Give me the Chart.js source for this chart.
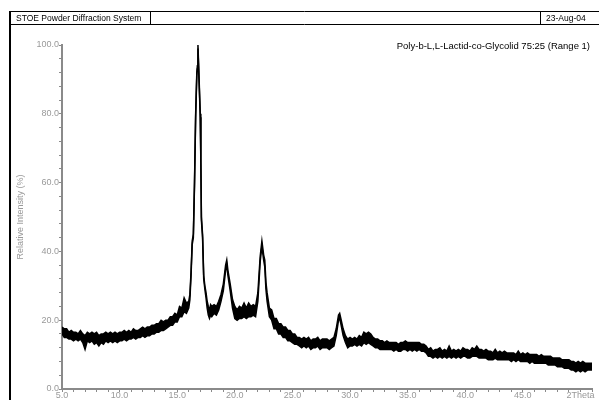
<!DOCTYPE html>
<html>
<head>
<meta charset="utf-8">
<title>STOE Powder Diffraction System</title>
<script src="https://cdn.jsdelivr.net/npm/chart.js@4.4.1/dist/chart.umd.min.js"></script>
<style>
    html, body { margin: 0; padding: 0; background: #ffffff; }
    #wrap { width: 599px; height: 400px; position: relative; }
</style>
</head>
<body>
<div id="wrap"><canvas id="xrdChart"></canvas></div>
<script>
// Datos del difractograma: 2Theta (grados) y banda de ruido de la intensidad relativa (%)
const twoTheta = [
    5.0, 5.2, 5.4, 5.6, 5.8, 6.0, 6.2, 6.4, 6.6, 6.8, 7.0, 7.2, 7.4, 7.6, 7.8,
    8.0, 8.2, 8.4, 8.6, 8.8, 9.0, 9.2, 9.4, 9.6, 9.8, 10.0, 10.2, 10.4, 10.6, 10.8,
    11.0, 11.2, 11.4, 11.6, 11.8, 12.0, 12.2, 12.4, 12.6, 12.8, 13.0, 13.2, 13.4, 13.6, 13.8,
    14.0, 14.2, 14.4, 14.6, 14.8, 15.0, 15.2, 15.4, 15.6, 15.8, 16.0, 16.1, 16.2, 16.3, 16.4,
    16.5, 16.6, 16.7, 16.75, 16.8, 16.85, 16.9, 17.0, 17.05, 17.1, 17.2, 17.3, 17.4, 17.5, 17.6,
    17.7, 17.8, 17.9, 18.0, 18.2, 18.4, 18.6, 18.8, 19.0, 19.2, 19.3, 19.4, 19.6, 19.8, 20.0,
    20.2, 20.4, 20.6, 20.8, 21.0, 21.2, 21.4, 21.6, 21.8, 22.0, 22.2, 22.35, 22.5, 22.6, 22.7,
    22.8, 23.0, 23.2, 23.4, 23.6, 23.8, 24.0, 24.2, 24.4, 24.6, 24.8, 25.0, 25.2, 25.4, 25.6,
    25.8, 26.0, 26.2, 26.4, 26.6, 26.8, 27.0, 27.2, 27.4, 27.6, 27.8, 28.0, 28.2, 28.4, 28.6,
    28.8, 29.0, 29.1, 29.2, 29.4, 29.6, 29.8, 30.0, 30.2, 30.4, 30.6, 30.8, 31.0, 31.2, 31.4,
    31.6, 31.8, 32.0, 32.2, 32.4, 32.6, 32.8, 33.0, 33.2, 33.4, 33.6, 33.8, 34.0, 34.2, 34.4,
    34.6, 34.8, 35.0, 35.2, 35.4, 35.6, 35.8, 36.0, 36.2, 36.4, 36.6, 36.8, 37.0, 37.2, 37.4,
    37.6, 37.8, 38.0, 38.2, 38.4, 38.6, 38.8, 39.0, 39.2, 39.4, 39.6, 39.8, 40.0, 40.2, 40.4,
    40.6, 40.8, 41.0, 41.2, 41.4, 41.6, 41.8, 42.0, 42.2, 42.4, 42.6, 42.8, 43.0, 43.2, 43.4,
    43.6, 43.8, 44.0, 44.2, 44.4, 44.6, 44.8, 45.0, 45.2, 45.4, 45.6, 45.8, 46.0, 46.2, 46.4,
    46.6, 46.8, 47.0, 47.2, 47.4, 47.6, 47.8, 48.0, 48.2, 48.4, 48.6, 48.8, 49.0, 49.2, 49.4,
    49.6, 49.8, 50.0, 50.2, 50.4, 50.6, 50.8, 51.0
];
// borde superior de la banda
const intensityHigh = [
    18, 17.5, 17.5, 16.5, 17, 16.5, 16.5, 16, 17, 16, 15.5, 16.5, 16, 16.5, 16,
    16.5, 15.5, 16, 16, 16.5, 16, 16.5, 16, 16.5, 16, 16.5, 16.5, 17, 16.5, 17,
    16.5, 17.5, 17, 17, 17.5, 18, 17.5, 18, 18, 18.5, 18.5, 19, 19, 20, 19.5,
    20, 20, 21, 21, 22, 21.5, 24, 23.5, 26.5, 25, 25.5, 27.5, 34, 43, 45,
    60, 80, 92, 94, 100, 95, 90, 80, 67, 50, 45, 33, 30, 28, 25.5,
    24, 23, 24.5, 24, 24.5, 24, 25.5, 27.5, 30.5, 36, 37.5, 34.5, 30.5, 26, 24,
    23, 24, 23.5, 25, 23.5, 25, 24, 24.5, 24, 28, 38.5, 43, 39, 37.5, 31,
    28, 23.5, 23, 20.5, 20.5, 19, 19, 18, 18, 17, 17, 16, 16, 15, 15,
    14.5, 15, 14.5, 15, 14, 14.5, 14.5, 15, 14, 14.5, 14.5, 14.5, 14, 14.5, 15,
    17.5, 21.5, 22, 20.5, 17.5, 15.5, 14.5, 15, 14.5, 15, 14.5, 15.5, 15, 16.5, 16,
    16.5, 16, 15, 14.5, 14.5, 14, 14, 13.5, 14, 13.5, 13.5, 13.5, 13.5, 13, 13.5,
    13.5, 14, 13.5, 13.5, 13.5, 13.5, 13.5, 13.5, 13, 13, 12.5, 11.5, 12, 11, 11.5,
    11.5, 12, 11, 11.5, 11, 12.5, 11, 11.5, 11, 11.5, 11, 12, 11.5, 11.5, 11,
    12, 11.5, 12.5, 11.5, 11.5, 11, 11.5, 11, 11, 10.5, 11.5, 10.5, 11, 10.5, 11,
    10.5, 10.5, 10.5, 10.5, 10, 11, 10, 10.5, 10, 10.5, 10, 10, 10, 10, 9.5,
    10, 9.5, 9.5, 9.5, 9.5, 9, 9, 9, 9, 8.5, 8.5, 8.5, 8.5, 8, 8,
    7.5, 8, 7.5, 8, 7.5, 7.5, 7.5, 7.5
];
// borde inferior de la banda
const intensityLow = [
    16, 15, 15, 14.5, 14.5, 14, 14.5, 14, 14.5, 13.5, 11.5, 14, 13.5, 14, 13,
    13.5, 12.5, 13.5, 13, 14, 13.5, 14, 13.5, 14, 13.5, 14, 14, 14.5, 14, 14.5,
    14.5, 15, 14.5, 15, 15, 15.5, 15, 15.5, 15.5, 16, 16, 16.5, 16.5, 17, 17,
    17.5, 18, 18.5, 18.5, 19.5, 19.5, 21, 21, 22.5, 22, 23.5, 26, 33, 42, 44,
    59, 79, 91, 93, 99, 94, 89, 79, 66, 49, 44, 32, 29, 26.5, 23.5,
    21.5, 20.5, 21.5, 21, 22, 21.5, 23, 25.5, 28.5, 34.5, 36, 33, 28.5, 23.5, 20.5,
    20, 20.5, 20.5, 21, 20.5, 21, 21, 21.5, 21, 25.5, 37, 41.5, 37.5, 35.5, 29,
    25.5, 21, 20, 17.5, 17.5, 16, 16, 15, 15, 14, 14, 13.5, 13, 13, 12.5,
    12, 12.5, 12, 12.5, 11.5, 12, 12, 12.5, 11.5, 12, 12, 12, 11.5, 12, 12.5,
    15.5, 20, 20.5, 19, 15.5, 13.5, 12, 12.5, 12.5, 13, 12.5, 13, 12.5, 13.5, 13,
    13.5, 13, 12.5, 12, 12, 11.5, 11.5, 11.5, 11.5, 11.5, 11.5, 11, 11.5, 11, 11,
    11.5, 11.5, 11, 11.5, 11, 11.5, 11, 11.5, 11, 11, 10.5, 9.5, 9.5, 9, 9.5,
    9, 9.5, 9, 9.5, 9, 9.5, 9, 9.5, 9, 9.5, 9, 9.5, 9.5, 9, 9,
    9.5, 9.5, 9.5, 9, 9, 9, 9, 8.5, 8.5, 8.5, 9, 8.5, 8.5, 8.5, 8.5,
    8.5, 8.5, 8, 8.5, 8, 8.5, 8, 8, 8, 8, 7.5, 8, 7.5, 7.5, 7.5,
    7.5, 7.5, 7.5, 7, 7, 7, 7, 6.5, 6.5, 6.5, 6, 6, 6, 5.5, 5.5,
    5, 5.5, 5, 5.5, 5, 5.5, 5.5, 5.5
];

const headerLeft = 'STOE Powder Diffraction System';
const headerRight = '23-Aug-04';
const sampleTitle = 'Poly-b-L,L-Lactid-co-Glycolid 75:25 (Range 1)';
const yTitle = 'Relative Intensity (%)';
const xTitle = '2Theta';

const fontFamily = '"Liberation Sans", Arial, sans-serif';
const axisGray = '#8a8a8a';
const labelGray = '#999999';

const lowPoints = twoTheta.map(function (t, i) { return {x: t, y: intensityLow[i]}; });
const highPoints = twoTheta.map(function (t, i) { return {x: t, y: intensityHigh[i]}; });

// Marco y cabecera al estilo STOE
const stoeFrame = {
    id: 'stoeFrame',
    beforeDraw: function (chart) {
        const ctx = chart.ctx;
        ctx.save();
        ctx.fillStyle = '#ffffff';
        ctx.fillRect(0, 0, chart.width, chart.height);
        ctx.restore();
    },
    afterDraw: function (chart) {
        const ctx = chart.ctx;
        ctx.save();
        ctx.strokeStyle = '#000000';
        ctx.lineWidth = 1;
        // cabecera
        ctx.beginPath();
        ctx.moveTo(10, 11.5); ctx.lineTo(599, 11.5);
        ctx.moveTo(10, 24.5); ctx.lineTo(599, 24.5);
        ctx.moveTo(150.5, 11); ctx.lineTo(150.5, 25);
        ctx.moveTo(540.5, 11); ctx.lineTo(540.5, 25);
        ctx.stroke();
        // borde izquierdo grueso
        ctx.lineWidth = 2;
        ctx.beginPath();
        ctx.moveTo(10, 11); ctx.lineTo(10, 400);
        ctx.stroke();

        ctx.fillStyle = '#000000';
        ctx.font = '8.5px ' + fontFamily;
        ctx.textBaseline = 'middle';
        ctx.textAlign = 'left';
        ctx.fillText(headerLeft, 16, 18.5);
        ctx.fillText(headerRight, 546, 18.5);

        ctx.font = '9.5px ' + fontFamily;
        ctx.textAlign = 'right';
        ctx.fillText(sampleTitle, 590, 46);

        // titulo del eje Y
        ctx.font = '9px ' + fontFamily;
        ctx.fillStyle = labelGray;
        ctx.translate(21, 217);
        ctx.rotate(-Math.PI / 2);
        ctx.textAlign = 'center';
        ctx.fillText(yTitle, 0, 0);
        ctx.restore();
    }
};

var ctxXrd = document.getElementById('xrdChart').getContext('2d');
var xrdChart = new Chart(ctxXrd, {
    type: 'line',
    data: {
        datasets: [{
            data: lowPoints,
            borderColor: '#000000',
            borderWidth: 1.5,
            pointRadius: 0,
            tension: 0,
            fill: false
        }, {
            data: highPoints,
            borderColor: '#000000',
            backgroundColor: '#000000',
            borderWidth: 1.5,
            pointRadius: 0,
            tension: 0,
            fill: '-1'
        }]
    },
    options: {
        responsive: true,
        maintainAspectRatio: false,
        animation: false,
        layout: {
            padding: {left: 0, right: 7, top: 45, bottom: 0}
        },
        plugins: {
            legend: {display: false},
            tooltip: {enabled: false}
        },
        scales: {
            x: {
                type: 'linear',
                min: 5,
                max: 51,
                afterFit: function (scale) { scale.height = 11; },
                border: {color: axisGray, width: 2},
                grid: {
                    drawOnChartArea: false,
                    drawTicks: true,
                    tickLength: 3,
                    color: axisGray
                },
                ticks: {
                    stepSize: 1,
                    autoSkip: false,
                    maxRotation: 0,
                    padding: -2,
                    color: labelGray,
                    font: {family: fontFamily, size: 9},
                    callback: function (value) {
                        if (value === 50) return xTitle;
                        return value % 5 === 0 ? value.toFixed(1) : '';
                    }
                }
            },
            y: {
                min: 0,
                max: 100,
                afterFit: function (scale) { scale.width = 62; },
                border: {color: axisGray, width: 2},
                grid: {
                    drawOnChartArea: false,
                    drawTicks: true,
                    tickLength: 3,
                    color: axisGray
                },
                ticks: {
                    stepSize: 4,
                    autoSkip: false,
                    padding: 0,
                    color: labelGray,
                    font: {family: fontFamily, size: 9},
                    callback: function (value) {
                        return value % 20 === 0 ? value.toFixed(1) : '';
                    }
                }
            }
        }
    },
    plugins: [stoeFrame]
});
</script>
</body>
</html>
